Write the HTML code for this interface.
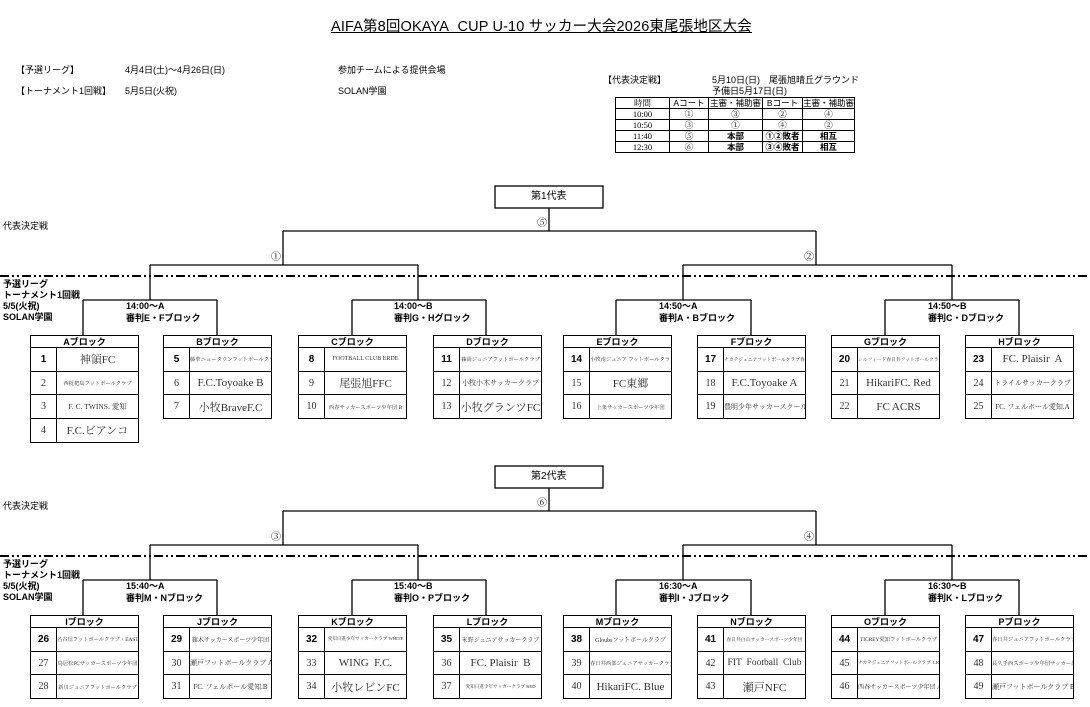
<!DOCTYPE html>
<html><head><meta charset="utf-8">
<style>
*{margin:0;padding:0;box-sizing:border-box}
body{width:1090px;height:707px;position:relative;background:#fff;overflow:hidden;font-family:"Liberation Sans","Noto Sans CJK JP",sans-serif;color:#000}
.t{position:absolute;white-space:nowrap;line-height:1}
.b{font-weight:bold}
svg{position:absolute;left:0;top:0}
table.blk{position:absolute;width:108px;border-collapse:collapse;table-layout:fixed}
table.blk th{height:12px;border:1px solid #000;font:bold 9px "Liberation Sans","Noto Sans CJK JP",sans-serif;line-height:10px;padding:0}
table.blk td{height:23.7px;border:1px solid #000;text-align:center;font-family:"Liberation Serif","Noto Serif CJK JP",serif;color:#333;padding:0;white-space:nowrap;overflow:hidden}
table.blk td.n{font-size:10px}
table.blk td.n1{font:bold 10px "Liberation Sans",sans-serif;color:#000}
.L{font-size:11px}.M{font-size:7.5px}.S{font-size:5.3px;color:#777}
table.hd{position:absolute;left:615px;top:97px;border-collapse:collapse;table-layout:fixed}
table.hd td{border:1px solid #000;height:11px;font-size:8.5px;text-align:center;padding:0;line-height:9px;white-space:nowrap}
.sf{font-family:"Liberation Serif","Noto Serif CJK JP",serif}
</style></head><body>

<div class="t" style="left:331px;top:20px;font-size:14.5px;letter-spacing:0.15px;text-decoration:underline">AIFA第8回OKAYA&nbsp; CUP U-10 サッカー大会2026東尾張地区大会</div>

<div class="t" style="left:16px;top:66px;font-size:9px">【予選リーグ】</div>
<div class="t" style="left:125px;top:66px;font-size:9px">4月4日(土)～4月26日(日)</div>
<div class="t" style="left:338px;top:66px;font-size:9px">参加チームによる提供会場</div>
<div class="t" style="left:16px;top:87px;font-size:9px">【トーナメント1回戦】</div>
<div class="t" style="left:125px;top:87px;font-size:9px">5月5日(火祝)</div>
<div class="t" style="left:338px;top:87px;font-size:9px">SOLAN学園</div>

<div class="t" style="left:603px;top:76px;font-size:9px">【代表決定戦】</div>
<div class="t" style="left:712px;top:76px;font-size:9px">5月10日(日)　尾張旭晴丘グラウンド</div>
<div class="t" style="left:712px;top:87px;font-size:9px">予備日5月17日(日)</div>

<table class="hd">
<tr><td style="width:54px" class="sf">時間</td><td style="width:39px">Aコート</td><td style="width:54px">主審・補助審</td><td style="width:40px">Bコート</td><td style="width:51px">主審・補助審</td></tr>
<tr><td class="sf">10:00</td><td class="sf">①</td><td class="sf">③</td><td class="sf">②</td><td class="sf">④</td></tr>
<tr><td class="sf">10:50</td><td class="sf">③</td><td class="sf">①</td><td class="sf">④</td><td class="sf">②</td></tr>
<tr><td class="sf">11:40</td><td class="sf">⑤</td><td class="b">本部</td><td class="b">①②敗者</td><td class="b">相互</td></tr>
<tr><td class="sf">12:30</td><td class="sf">⑥</td><td class="b">本部</td><td class="b">③④敗者</td><td class="b">相互</td></tr>
</table>

<svg width="1090" height="707" viewBox="0 0 1090 707">
<g stroke="#000" stroke-width="1.3" fill="none">
<rect x="495" y="186" width="108" height="22"/>
<path d="M549 208V231M283 231H816M283 231V265M816 231V265M150 265H418M683 265H952M150 265V300M418 265V300M683 265V300M952 265V300M83 300H217M352 300H486M616 300H751M885 300H1019M83 300V335M217 300V335M352 300V335M486 300V335M616 300V335M751 300V335M885 300V335M1019 300V335"/>
<rect x="495" y="466" width="108" height="22"/>
<path d="M549 488V511M283 511H816M283 511V545M816 511V545M150 545H418M683 545H952M150 545V580M418 545V580M683 545V580M952 545V580M83 580H217M352 580H486M616 580H751M885 580H1019M83 580V615M217 580V615M352 580V615M486 580V615M616 580V615M751 580V615M885 580V615M1019 580V615"/>
<path d="M0 276H1090M0 556H1090" stroke-width="2" stroke-dasharray="9,3,2,3,2,3"/>
</g>
</svg>

<div class="t" style="left:531px;top:192px;font-size:10px">第1代表</div>
<div class="t" style="left:531px;top:472px;font-size:10px">第2代表</div>
<div class="t sf" style="left:537px;top:219px;font-size:10px">⑤</div>
<div class="t sf" style="left:271px;top:253px;font-size:10px">①</div>
<div class="t sf" style="left:804px;top:253px;font-size:10px">②</div>
<div class="t sf" style="left:537px;top:499px;font-size:10px">⑥</div>
<div class="t sf" style="left:271px;top:533px;font-size:10px">③</div>
<div class="t sf" style="left:804px;top:533px;font-size:10px">④</div>

<div class="t" style="left:3px;top:222px;font-size:9px">代表決定戦</div>
<div class="t" style="left:3px;top:502px;font-size:9px">代表決定戦</div>
<div class="t b" style="left:3px;top:279px;font-size:9px;line-height:11px">予選リーグ<br>トーナメント1回戦<br>5/5(火祝)<br>SOLAN学園</div>
<div class="t b" style="left:3px;top:559px;font-size:9px;line-height:11px">予選リーグ<br>トーナメント1回戦<br>5/5(火祝)<br>SOLAN学園</div>

<div class="t b" style="left:126px;top:300px;font-size:9px;line-height:12px">14:00～A<br>審判E・Fブロック</div>
<div class="t b" style="left:394px;top:300px;font-size:9px;line-height:12px">14:00～B<br>審判G・Hグロック</div>
<div class="t b" style="left:659px;top:300px;font-size:9px;line-height:12px">14:50～A<br>審判A・Bブロック</div>
<div class="t b" style="left:928px;top:300px;font-size:9px;line-height:12px">14:50～B<br>審判C・Dブロック</div>
<div class="t b" style="left:126px;top:580px;font-size:9px;line-height:12px">15:40～A<br>審判M・Nブロック</div>
<div class="t b" style="left:394px;top:580px;font-size:9px;line-height:12px">15:40～B<br>審判O・Pブロック</div>
<div class="t b" style="left:659px;top:580px;font-size:9px;line-height:12px">16:30～A<br>審判I・Jブロック</div>
<div class="t b" style="left:928px;top:580px;font-size:9px;line-height:12px">16:30～B<br>審判K・Lブロック</div>

<table class="blk" style="left:30px;top:335px"><colgroup><col style="width:26px"><col style="width:82px"></colgroup><tr><th colspan="2">Aブロック</th></tr>
<tr><td class="n1">1</td><td class="L">神領FC</td></tr>
<tr><td class="n">2</td><td class="S">西枇杷島フットボールクラブ</td></tr>
<tr><td class="n">3</td><td class="M">F. C. TWINS. 愛知</td></tr>
<tr><td class="n">4</td><td class="L">F.C.ビアンコ</td></tr></table>

<table class="blk" style="left:163px;top:335px"><colgroup><col style="width:26px"><col style="width:82px"></colgroup><tr><th colspan="2">Bブロック</th></tr>
<tr><td class="n1">5</td><td class="S">藤華ニュータウンフットボールクラブ</td></tr>
<tr><td class="n">6</td><td class="L">F.C.Toyoake B</td></tr>
<tr><td class="n">7</td><td class="L">小牧BraveF.C</td></tr></table>

<table class="blk" style="left:298px;top:335px"><colgroup><col style="width:26px"><col style="width:82px"></colgroup><tr><th colspan="2">Cブロック</th></tr>
<tr><td class="n1">8</td><td class="S" style="font-size:6px">FOOTBALL CLUB ERDE</td></tr>
<tr><td class="n">9</td><td class="L">尾張旭FFC</td></tr>
<tr><td class="n">10</td><td class="S">西春サッカースポーツ少年団 B</td></tr></table>

<table class="blk" style="left:433px;top:335px"><colgroup><col style="width:26px"><col style="width:82px"></colgroup><tr><th colspan="2">Dブロック</th></tr>
<tr><td class="n1">11</td><td class="S">篠岡ジュニアフットボールクラブ</td></tr>
<tr><td class="n">12</td><td class="M" style="font-size:7px">小牧小木サッカークラブ</td></tr>
<tr><td class="n">13</td><td class="L">小牧グランツFC</td></tr></table>

<table class="blk" style="left:563px;top:335px"><colgroup><col style="width:26px"><col style="width:82px"></colgroup><tr><th colspan="2">Eブロック</th></tr>
<tr><td class="n1">14</td><td class="S">小牧南ジュニア フットボールクラブ</td></tr>
<tr><td class="n">15</td><td class="L">FC東郷</td></tr>
<tr><td class="n">16</td><td class="S">上条サッカースポーツ少年団</td></tr></table>

<table class="blk" style="left:697px;top:335px"><colgroup><col style="width:26px"><col style="width:82px"></colgroup><tr><th colspan="2">Fブロック</th></tr>
<tr><td class="n1">17</td><td class="S" style="font-size:4.8px">ナカテジュニアフットボールクラブ春日井</td></tr>
<tr><td class="n">18</td><td class="L">F.C.Toyoake A</td></tr>
<tr><td class="n">19</td><td class="M" style="font-size:7px">豊明少年サッカースクール</td></tr></table>

<table class="blk" style="left:831px;top:335px"><colgroup><col style="width:26px"><col style="width:82px"></colgroup><tr><th colspan="2">Gブロック</th></tr>
<tr><td class="n1">20</td><td class="S" style="font-size:4.8px">シルフィード春日井フットボールクラブ</td></tr>
<tr><td class="n">21</td><td class="L">HikariFC. Red</td></tr>
<tr><td class="n">22</td><td class="L">FC ACRS</td></tr></table>

<table class="blk" style="left:965px;top:335px"><colgroup><col style="width:26px"><col style="width:82px"></colgroup><tr><th colspan="2">Hブロック</th></tr>
<tr><td class="n1">23</td><td class="L">FC. Plaisir&nbsp; A</td></tr>
<tr><td class="n">24</td><td class="M" style="font-size:7px">トライルサッカークラブ</td></tr>
<tr><td class="n">25</td><td class="M" style="font-size:7px">FC. フェルボール愛知.A</td></tr></table>

<table class="blk" style="left:30px;top:615px"><colgroup><col style="width:26px"><col style="width:82px"></colgroup><tr><th colspan="2">Iブロック</th></tr>
<tr><td class="n1">26</td><td class="S">名古屋フットボールクラブ・EAST</td></tr>
<tr><td class="n">27</td><td class="S">鳥居松FCサッカースポーツ少年団</td></tr>
<tr><td class="n">28</td><td class="S">新川ジュニアフットボールクラブ</td></tr></table>

<table class="blk" style="left:163px;top:615px"><colgroup><col style="width:26px"><col style="width:82px"></colgroup><tr><th colspan="2">Jブロック</th></tr>
<tr><td class="n1">29</td><td class="S" style="font-size:6px">篠木サッカースポーツ少年団</td></tr>
<tr><td class="n">30</td><td class="M" style="font-size:7px">瀬戸フットボールクラブ A</td></tr>
<tr><td class="n">31</td><td class="M" style="font-size:7px">FC. フェルボール愛知.B</td></tr></table>

<table class="blk" style="left:298px;top:615px"><colgroup><col style="width:26px"><col style="width:82px"></colgroup><tr><th colspan="2">Kブロック</th></tr>
<tr><td class="n1">32</td><td class="S" style="font-size:4.6px">愛知日進少年サッカークラブ WHITE</td></tr>
<tr><td class="n">33</td><td class="L">WING&nbsp; F.C.</td></tr>
<tr><td class="n">34</td><td class="L">小牧レビンFC</td></tr></table>

<table class="blk" style="left:433px;top:615px"><colgroup><col style="width:26px"><col style="width:82px"></colgroup><tr><th colspan="2">Lブロック</th></tr>
<tr><td class="n1">35</td><td class="S" style="font-size:6px">米野ジュニアサッカークラブ</td></tr>
<tr><td class="n">36</td><td class="L">FC. Plaisir&nbsp; B</td></tr>
<tr><td class="n">37</td><td class="S" style="font-size:4.6px">愛知日進少年サッカークラブ RED</td></tr></table>

<table class="blk" style="left:563px;top:615px"><colgroup><col style="width:26px"><col style="width:82px"></colgroup><tr><th colspan="2">Mブロック</th></tr>
<tr><td class="n1">38</td><td class="S" style="font-size:6px">Gloubsフットボールクラブ</td></tr>
<tr><td class="n">39</td><td class="S">春日井西部ジュニアサッカークラブ</td></tr>
<tr><td class="n">40</td><td class="L">HikariFC. Blue</td></tr></table>

<table class="blk" style="left:697px;top:615px"><colgroup><col style="width:26px"><col style="width:82px"></colgroup><tr><th colspan="2">Nブロック</th></tr>
<tr><td class="n1">41</td><td class="S" style="font-size:4.8px">春日井白山サッカースポーツ少年団</td></tr>
<tr><td class="n">42</td><td class="L" style="font-size:9.5px">FIT&nbsp; Football&nbsp; Club</td></tr>
<tr><td class="n">43</td><td class="L">瀬戸NFC</td></tr></table>

<table class="blk" style="left:831px;top:615px"><colgroup><col style="width:26px"><col style="width:82px"></colgroup><tr><th colspan="2">Oブロック</th></tr>
<tr><td class="n1">44</td><td class="S">TIGREY愛知フットボールクラブ</td></tr>
<tr><td class="n">45</td><td class="S" style="font-size:4.6px">ナカテジュニアフットボールクラブ. LIGHT</td></tr>
<tr><td class="n">46</td><td class="S" style="font-size:6px">西春サッカースポーツ少年団 A</td></tr></table>

<table class="blk" style="left:965px;top:615px"><colgroup><col style="width:26px"><col style="width:82px"></colgroup><tr><th colspan="2">Pブロック</th></tr>
<tr><td class="n1">47</td><td class="S">春日井ジュニアフットボールクラブ</td></tr>
<tr><td class="n">48</td><td class="S">長久手西スポーツ少年団サッカー部</td></tr>
<tr><td class="n">49</td><td class="M" style="font-size:7px">瀬戸フットボールクラブ B</td></tr></table>

</body></html>
